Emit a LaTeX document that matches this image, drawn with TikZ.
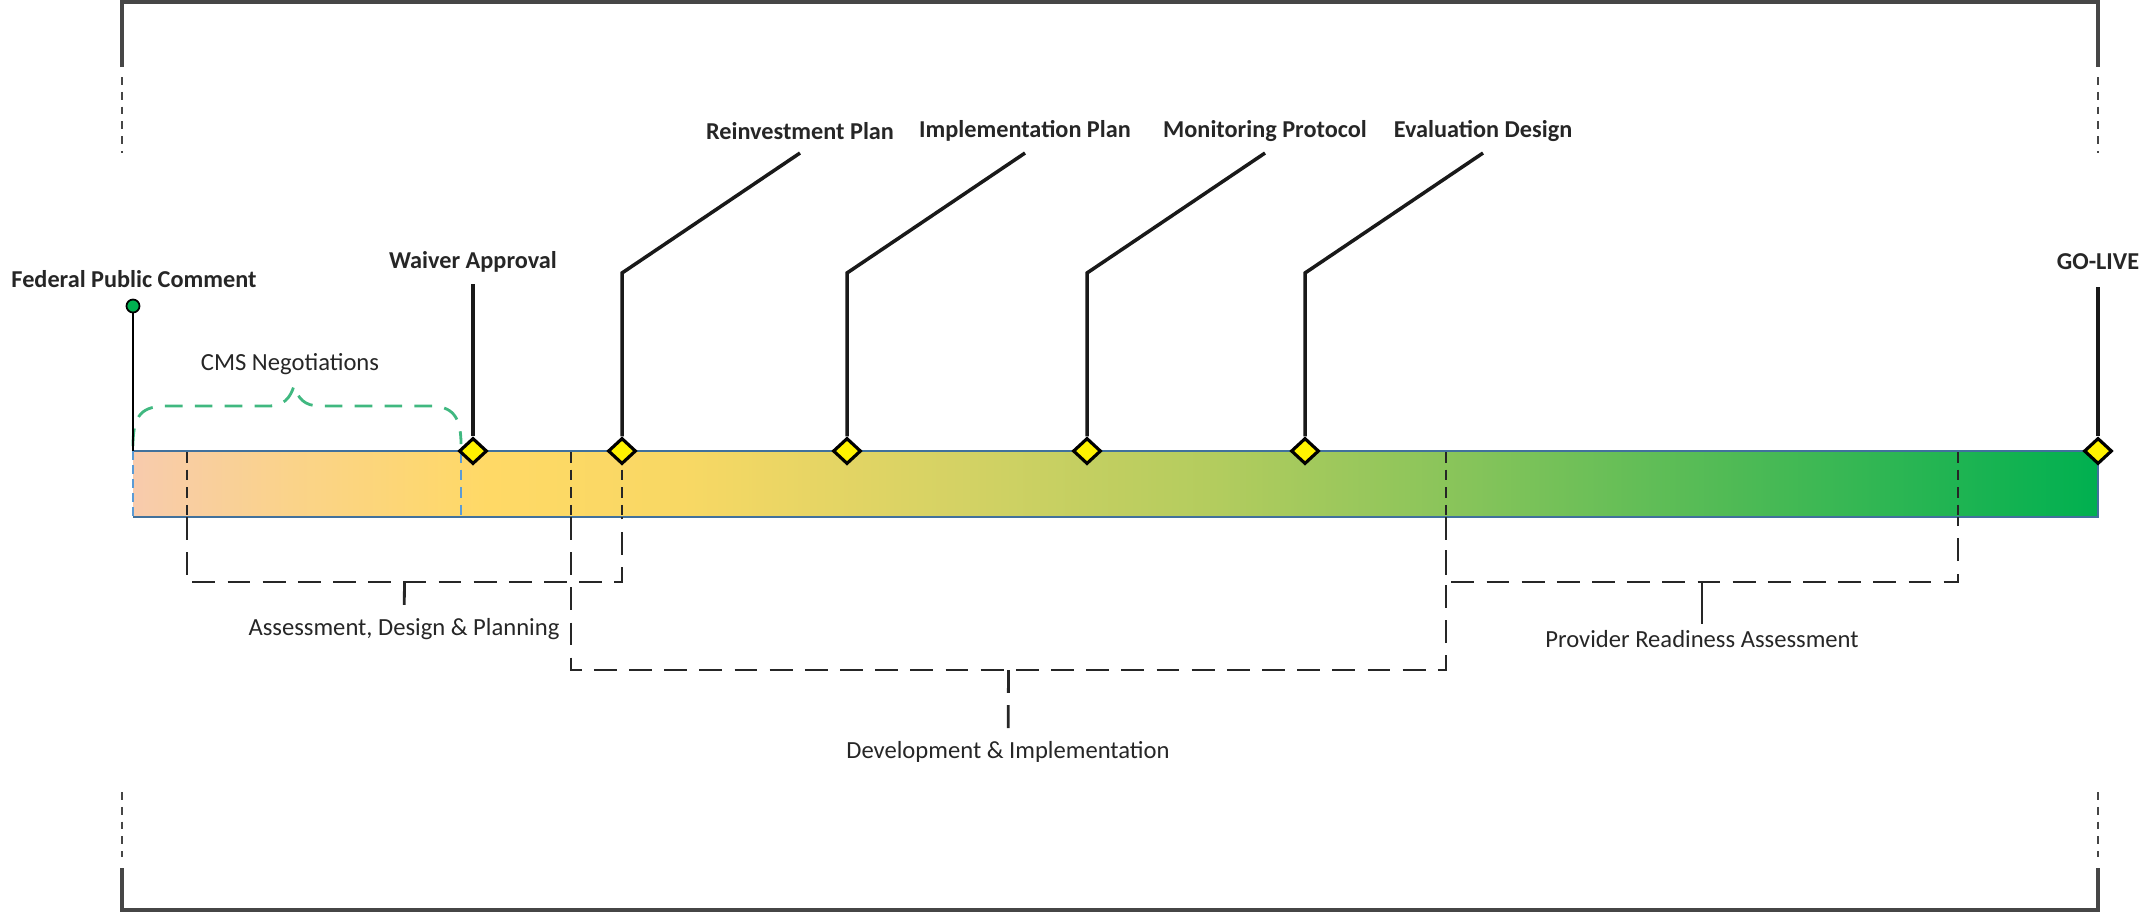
\documentclass[tikz,border=0pt]{standalone}
\usepackage{fontspec}
\setmainfont{Carlito}
\usetikzlibrary{shapes.geometric,calc}

\definecolor{txt}{RGB}{38,38,38}
\definecolor{framegray}{RGB}{70,70,70}
\definecolor{cmsgreen}{RGB}{64,184,128}
\definecolor{barblue}{RGB}{65,113,156}
\definecolor{lineblue}{RGB}{91,155,213}
\definecolor{dotgreen}{RGB}{0,176,80}
% timeline colours, left to right
\definecolor{tl0}{RGB}{248,203,173}
\definecolor{tl1}{RGB}{250,211,138}
\definecolor{tl2}{RGB}{255,217,102}
\definecolor{tl3}{RGB}{248,216,100}
\definecolor{tl4}{RGB}{212,210,100}
\definecolor{tl5}{RGB}{179,204,94}
\definecolor{tl6}{RGB}{134,196,90}
\definecolor{tl7}{RGB}{77,186,85}
\definecolor{tl8}{RGB}{0,176,80}
\pgfdeclarehorizontalshading{timeline}{100bp}{%
  color(0bp)=(tl0); color(25bp)=(tl0); color(29bp)=(tl1); color(34bp)=(tl2);
  color(39bp)=(tl3); color(46bp)=(tl4); color(52.5bp)=(tl5); color(59bp)=(tl6);
  color(66bp)=(tl7); color(75bp)=(tl8); color(100bp)=(tl8)}

\begin{document}
\begin{tikzpicture}[x=0.01cm, y=-0.01cm,
  mstone/.style={diamond, draw=black, fill=yellow, line width=0.9pt,
    minimum width=0.28cm, minimum height=0.26cm, inner sep=0pt},
  mline/.style={line width=1pt, black!90},
  mlabel/.style={font=\fontsize{6.9}{8}\selectfont\bfseries, text=txt, inner sep=1pt},
  blabel/.style={font=\fontsize{7}{8.5}\selectfont, text=txt, inner sep=1.5pt},
  bracket/.style={line width=0.8pt, black!85, dash pattern=on 6.5pt off 3.5pt},
  bardash/.style={line width=0.75pt, black!85, dash pattern=on 3pt off 2pt},
  frameline/.style={line width=1pt, framegray},
  framedash/.style={line width=0.8pt, framegray, dash pattern=on 2.2pt off 2pt},
  cmsbrace/.style={line width=0.8pt, cmsgreen, dash pattern=on 5pt off 3.5pt},
  dot/.style={circle, draw=black, fill=dotgreen, line width=0.5pt,
    minimum size=0.13cm, inner sep=0pt}]
  \useasboundingbox (0,0) rectangle (2143,914);

  % Outer frame (broken at the sides)
  \draw[frameline] (122,67) -- (122,2) -- (2098,2) -- (2098,67);
  \draw[frameline] (122,868) -- (122,910) -- (2098,910) -- (2098,868);
  \foreach \fx in {122,2098} {
    \draw[framedash] (\fx,77) -- (\fx,153);
    \draw[framedash] (\fx,792) -- (\fx,857);
  }

  % Timeline bar
  \coordinate (bar-nw) at (133,451);
  \coordinate (bar-se) at (2098,517);
  \shade[shading=timeline] (bar-nw) rectangle (bar-se);
  \draw[barblue, line width=0.6pt] (bar-nw) -- (bar-nw -| bar-se) -- (bar-se) -- (bar-se -| bar-nw);
  \draw[lineblue, line width=0.6pt, dash pattern=on 2.5pt off 1.5pt] (bar-nw) -- (bar-se -| bar-nw);

  % Dashed marks inside the bar
  \foreach \bx in {187,571,622,1446,1958} {
    \draw[bardash] (\bx,452) -- (\bx,516);
  }
  \draw[lineblue, line width=0.7pt, dash pattern=on 3pt off 2pt] (461,452) -- (461,516);

  % Phase brackets below the bar
  \coordinate (adp-mid) at (404.5,582);
  \draw[bracket] (187,517) -- (187,582) -- (622,582) -- (622,517);
  \node[blabel] (adp) at (404,629) {Assessment, Design \& Planning};
  \draw[bracket] (adp-mid) -- (adp);

  \coordinate (dev-mid) at (1008.5,670);
  \draw[bracket] (571,517) -- (571,670) -- (1446,670) -- (1446,517);
  \node[blabel] (dev) at (1008,752) {Development \& Implementation};
  \draw[bracket] (dev-mid) -- (dev);

  \coordinate (pra-mid) at (1702,582);
  \draw[bracket] (1446,517) -- (1446,582) -- (1958,582) -- (1958,517);
  \node[blabel] (pra) at (1702,639) {Provider Readiness Assessment};
  \draw[line width=0.8pt, black!85] (pra-mid) -- (pra);

  % CMS negotiations brace
  \node[blabel] (cms) at (290,364) {CMS Negotiations};
  \coordinate (cms-l) at (133,446);
  \coordinate (cms-r) at (461,444);
  \draw[cmsbrace] (cms-l) .. controls (133,414) and (142,406) .. (168,406)
    -- (268,406) .. controls (284,406) and (290,398) .. (294,386)
    .. controls (298,398) and (304,406) .. (320,406)
    -- (430,406) .. controls (452,406) and (461,416) .. (cms-r);

  % Federal public comment
  \node[dot] (fpc-dot) at (133,306) {};
  \node[mlabel] (fpc) at (134,279) {Federal Public Comment};
  \coordinate (fpc-base) at (133,451);
  \draw[line width=0.6pt, black] (fpc-dot) -- (fpc-base);

  % Straight milestones
  \node[mstone] (wa) at (473,451) {};
  \node[mlabel] (wa-lbl) at (473,262) {Waiver Approval};
  \coordinate (wa-top) at (473,284);
  \draw[mline] (wa) -- (wa-top);

  \node[mstone] (golive) at (2098,451) {};
  \node[mlabel] (golive-lbl) at (2098,262) {GO-LIVE};
  \coordinate (golive-top) at (2098,287);
  \draw[mline] (golive) -- (golive-top);

  % Milestones with bent leader lines
  \foreach \x/\nm/\txt in {622/rp/Reinvestment Plan, 847/ip/Implementation Plan,
                           1087/mp/Monitoring Protocol, 1305/ed/Evaluation Design} {
    \node[mstone] (\nm) at (\x,451) {};
    \node[mlabel] (\nm-lbl) at (\x+178,131) {\txt};
    \coordinate (\nm-top) at (\x+178,153);
    \draw[mline] (\nm) -- (\x,273) -- (\nm-top);
  }
\end{tikzpicture}
\end{document}
